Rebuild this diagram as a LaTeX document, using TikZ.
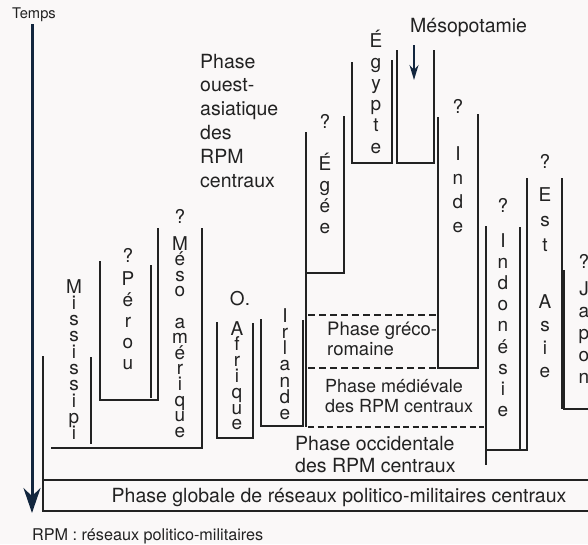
\documentclass[tikz,border=0pt]{standalone}
\usepackage{fontspec}
\setmainfont{TeX Gyre Heros}
\usetikzlibrary{arrows.meta}
\definecolor{ink}{HTML}{222222}
\definecolor{navy}{HTML}{12263E}
\definecolor{paper}{HTML}{FAF8F8}

% a word set as a column of letters: name, x, first baseline, step, letters
\newcommand\colword[5]{%
  \foreach \ch [count=\k from 0] in {#5}
    \node[letter] (#1-\k) at (#2, {#3+#4*\k}) {\ch};}

\begin{document}
\begin{tikzpicture}[x=1pt,y=-1pt,
  wall/.style={draw=ink, line width=1.6pt},
  phaseline/.style={draw=ink, line width=1.4pt, dash pattern=on 7pt off 4pt},
  letter/.style={inner sep=0pt, anchor=base, text=ink, text height=11pt, text depth=2pt,
                 font=\fontsize{19}{19}\selectfont},
  lbl/.style={inner sep=0pt, anchor=base west, text=ink, font=\fontsize{19.5}{20}\selectfont},
  lblc/.style={inner sep=0pt, anchor=base, text=ink, font=\fontsize{19.5}{20}\selectfont},
]
\useasboundingbox (0,0) rectangle (588,544);
\clip (0,0) rectangle (588,544);
\fill[paper] (0,0) rectangle (588,544);

% time axis
\coordinate (t0) at (32,24);
\coordinate (t1) at (32,513);
\draw[navy, line width=3pt, -{Stealth[length=25pt,width=17pt]}] (t0) -- (t1);
\node[lbl, font=\fontsize{14.7}{16}\selectfont] (temps) at (12,18) {Temps};

% global frame
\draw[wall] (43,356) -- (43,511) -- (600,511);
\draw[wall] (43,480) -- (600,480);
% Mississipi
\draw[wall] (91,357) -- (91,444);
% Méso-amérique
\draw[wall] (51,448) -- (202,448) -- (202,228);
% Pérou
\draw[wall] (100,261) -- (100,400) -- (158,400) -- (158,228);
\draw[wall] (151,265) -- (151,398);
% O. Afrique
\draw[wall] (217,322) -- (217,438) -- (253,438) -- (253,323);
% Irlande
\draw[wall] (261,319) -- (261,426) -- (303,426) -- (303,320);
% west-Asian column and Égée
\draw[wall] (306,132) -- (306,427);
\draw[wall] (306,273) -- (344,273) -- (344,116);
% Égypte
\draw[wall] (352,62) -- (352,163) -- (392,163) -- (392,60);
% Mésopotamie
\draw[wall] (397,50) -- (397,163) -- (434,163) -- (434,50);
% Inde
\draw[wall] (438,117) -- (438,368) -- (478,368) -- (478,114);
% Indonésie
\draw[wall] (486,226) -- (486,465);
\draw[wall] (520,227) -- (520,450);
\draw[wall] (486,450) -- (527,450) -- (527,178);
% Est Asie
\draw[wall] (562,178) -- (562,409);
% Japon
\draw[wall] (564,270) -- (564,409) -- (600,409);
% phase boundaries
\draw[phaseline] (308,315) -- (438,315);
\draw[phaseline] (308,368) -- (438,368);
\draw[phaseline, dash pattern=on 6pt off 3.5pt] (308,427) -- (484,427);

% Mésopotamie label and arrow
\node[lbl] (meso-lbl) at (410,32) {Mésopotamie};
\coordinate (m0) at (414,45);
\coordinate (m1) at (414,80);
\draw[navy, line width=1.6pt, -{Stealth[length=15pt,width=9pt]}] (m0) -- (m1);

% column labels
\colword{miss}{74}{293}{16.3}{M,i,s,s,i,s,s,i,p,i}
\node[letter] (perou-q) at (128,262) {?};
\colword{perou}{128}{285}{21}{P,é,r,o,u}
\node[letter] (mam-q) at (180,223) {?};
\colword{meso}{180}{250}{15.6}{M,é,s,o}
\colword{amer}{180}{328}{15.6}{a,m,é,r,i,q,u,e}
\node[letter] (afr-o) at (240,305) {O.};
\colword{afr}{237}{335}{15.8}{A,f,r,i,q,u,e}
\colword{irl}{285}{322}{16.3}{I,r,l,a,n,d,e}
\node[letter] (egee-q) at (325,128) {?};
\colword{egee}{325}{170}{21}{É,g,é,e}
\colword{egy}{376}{47}{21.2}{É,g,y,p,t,e}
\node[letter] (inde-q) at (458,113) {?};
\colword{inde}{458}{160}{24.3}{I,n,d,e}
\node[letter] (indo-q) at (503,212) {?};
\colword{indo}{503}{247}{21.2}{I,n,d,o,n,é,s,i,e}
\node[letter] (asie-q) at (545,168) {?};
\colword{est}{545}{201}{25}{E,s,t}
\colword{asie}{545}{308}{23.3}{A,s,i,e}
\node[letter] (jap-q) at (584,268) {?};
\colword{jap}{584}{295}{22}{J,a,p,o,n}

% phase labels
\foreach \t [count=\k from 0] in {Phase,ouest-,asiatique,des,RPM,centraux}
  \node[lbl] (ouest-\k) at (200,{68+23.8*\k}) {\t};
\node[lbl, font=\fontsize{18.5}{20}\selectfont] (greco-a) at (327,335) {Phase gréco-};
\node[lbl, font=\fontsize{18.5}{20}\selectfont] (greco-b) at (327,355) {romaine};
\node[lbl, font=\fontsize{18}{20}\selectfont] (medi-a) at (325,392) {Phase médiévale};
\node[lbl, font=\fontsize{18}{20}\selectfont] (medi-b) at (325,412) {des RPM centraux};
\node[lbl] (occ-a) at (295,450) {Phase occidentale};
\node[lbl] (occ-b) at (295,472) {des RPM centraux};
\node[lblc] (glob) at (339,502) {Phase globale de réseaux politico-militaires centraux};
\node[lbl, font=\fontsize{16.2}{18}\selectfont] (note) at (32,540) {RPM : réseaux politico-militaires};
\end{tikzpicture}
\end{document}
